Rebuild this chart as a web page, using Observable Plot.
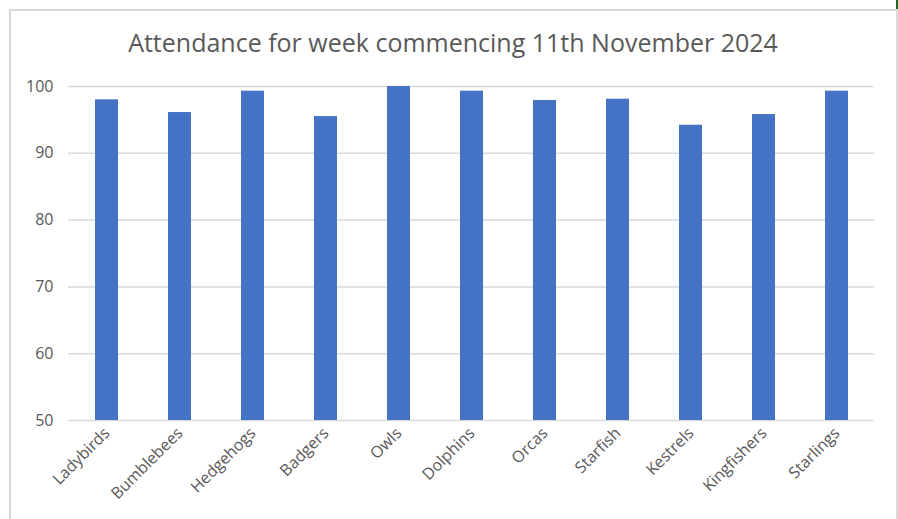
<!DOCTYPE html>
<html>
<head>
<meta charset="utf-8">
<script src="https://cdn.jsdelivr.net/npm/d3@7"></script>
<script src="https://cdn.jsdelivr.net/npm/@observablehq/plot@0.6"></script>
<style>
  html, body { margin: 0; padding: 0; background: #fff; }
  #wrap { position: relative; width: 898px; height: 519px; overflow: hidden; background: #fff; }
  #frame { position: absolute; left: 9px; top: 9px; width: 889px; height: 600px; border: 2px solid #d9d9d9; box-sizing: border-box; }
  #mark { position: absolute; left: 896px; top: 0; width: 2px; height: 9px; background: #1e6b1e; }
  #title { position: absolute; left: 0; width: 906px; top: 25px; text-align: center; font-family: "Open Sans", sans-serif; font-size: 25px; color: #595959; white-space: nowrap; }
  #chart { position: absolute; left: 0; top: 0; }
</style>
</head>
<body>
<div id="wrap">
  <div id="frame"></div>
  <div id="mark"></div>
  <div id="title">Attendance for week commencing 11th November 2024</div>
  <div id="chart"></div>
</div>
<script>
const classes = ["Ladybirds", "Bumblebees", "Hedgehogs", "Badgers", "Owls", "Dolphins", "Orcas", "Starfish", "Kestrels", "Kingfishers", "Starlings"];
const attendance = [98.0, 96.1, 99.3, 95.5, 100, 99.3, 97.9, 98.1, 94.2, 95.8, 99.3];
const yTicks = [50, 60, 70, 80, 90, 100];

const data = classes.map((c, i) => ({ cls: c, value: attendance[i] }));

const chart = Plot.plot({
  width: 898,
  height: 519,
  marginLeft: 68,
  marginRight: 24,
  marginTop: 86,
  marginBottom: 99,
  style: { fontFamily: "Open Sans, sans-serif", fontSize: "16px", color: "#595959", background: "transparent", overflow: "visible" },
  x: { domain: classes, paddingInner: 0.69, paddingOuter: 0.345, label: null },
  y: { domain: [50, 100], label: null },
  marks: [
    Plot.gridY(yTicks, { stroke: "#d9d9d9", strokeOpacity: 1, strokeWidth: 1.5 }),
    Plot.barY(data, { x: "cls", y1: 50, y2: "value", fill: "#4472c4" }),
    Plot.axisY(yTicks, { tickSize: 0, tickPadding: 15, fill: "#595959", fontSize: 16, label: null }),
    Plot.axisX({ tickSize: 0, tickRotate: -45, tickPadding: 10, fill: "#595959", fontSize: 16, label: null })
  ]
});
document.getElementById("chart").appendChild(chart);
</script>
</body>
</html>
